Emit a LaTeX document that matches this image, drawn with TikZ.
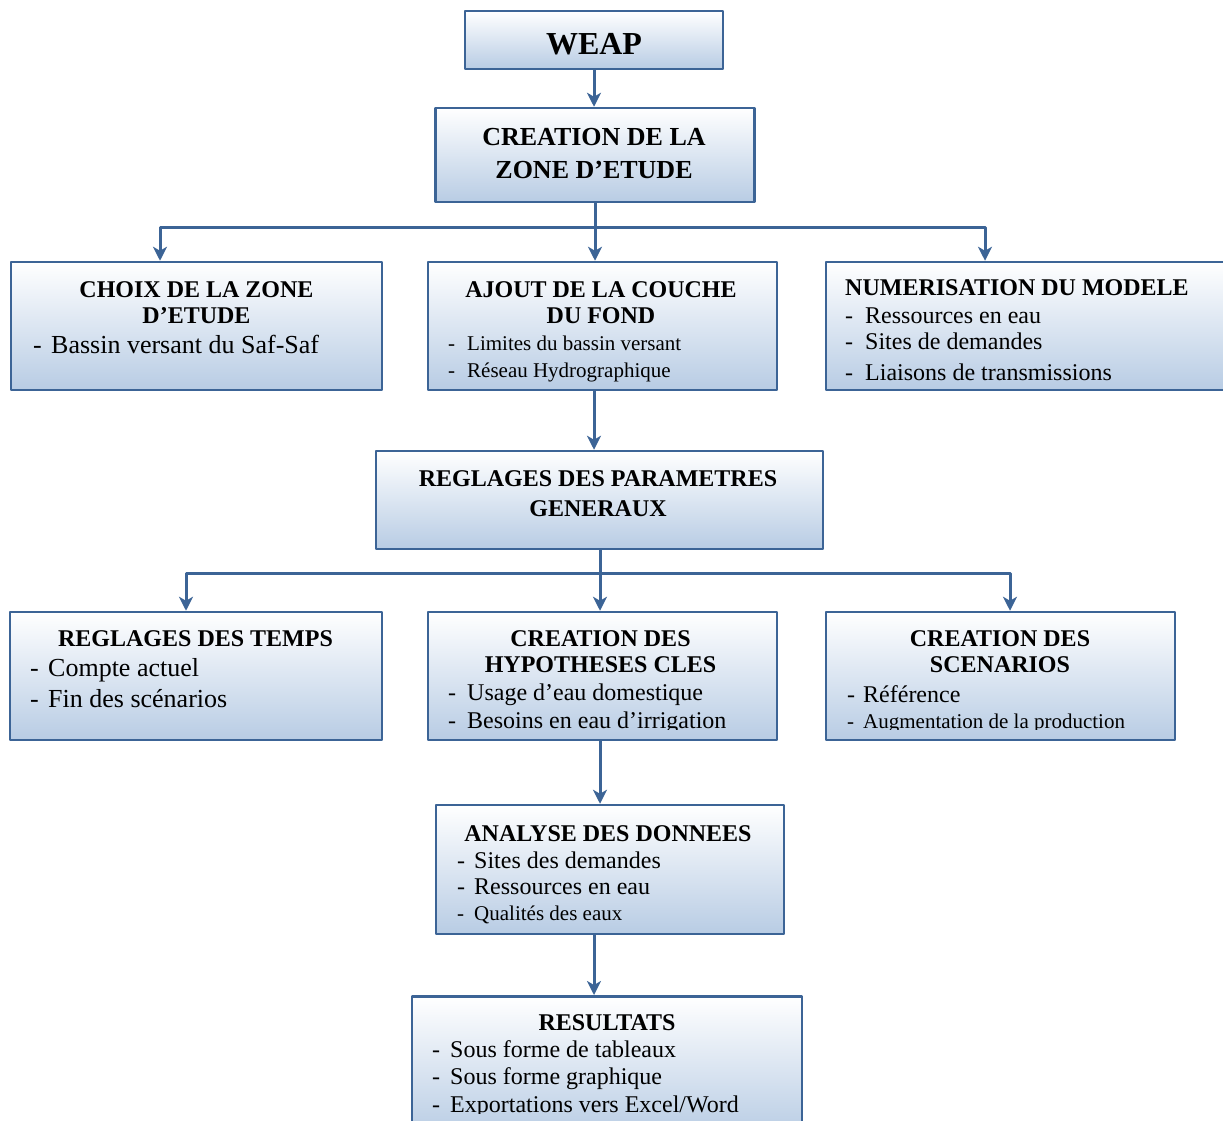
\documentclass[tikz,border=0pt]{standalone}
\usepackage{fontspec}
\setmainfont{Liberation Serif}
\usetikzlibrary{arrows.meta,calc}
\definecolor{bordbleu}{RGB}{60,100,150}
\definecolor{fondbleu}{RGB}{184,204,228}
\newcommand{\tiret}[2]{\makebox[#1][l]{-}#2}

\begin{document}
\begin{tikzpicture}[x=1pt, y=-1pt, line join=round,
	boite/.style 2 args={draw=bordbleu, line width=2.5pt, top color=white, bottom color=fondbleu, minimum width=#1, minimum height=#2, inner sep=0pt},
	titre/.style={font=\bfseries\fontsize{24}{24}\selectfont, anchor=base, inner sep=0pt},
	puce/.style={font=\fontsize{24}{24}\selectfont, anchor=base west, inner sep=0pt},
	petit/.style={font=\fontsize{21}{21}\selectfont},
	grand/.style={font=\fontsize{26}{26}\selectfont},
	trait/.style={draw=bordbleu, line width=3pt},
	fleche/.style={trait, -{Stealth[length=14pt, width=14pt, inset=4pt]}}]
	\useasboundingbox (0,0) rectangle (1223,1120);
	% boites
	\node[boite={258pt}{58pt}] (weap) at (594,40) {};
	\node[boite={319pt}{94pt}] (zone) at (595,155) {};
	\node[boite={371pt}{128pt}] (choix) at (196.5,326) {};
	\node[boite={349pt}{128pt}] (couche) at (602.5,326) {};
	\node[boite={400pt}{128pt}] (numer) at (1026,326) {};
	\node[boite={447pt}{98pt}] (param) at (599.5,500) {};
	\node[boite={372pt}{128pt}] (temps) at (196,676) {};
	\node[boite={349pt}{128pt}] (hypo) at (602.5,676) {};
	\node[boite={349pt}{128pt}] (scen) at (1000.5,676) {};
	\node[boite={348pt}{129pt}] (analyse) at (610,869.5) {};
	\node[boite={390pt}{140pt}, anchor=north] (result) at (607,995) {};
	% liaisons
	\draw[fleche] (weap.south) -- (weap.south |- zone.north);
	\coordinate (j1) at (595,227);
	\draw[trait] (zone.south) -- (j1);
	\foreach \n/\x in {choix/160,couche/595,numer/985}
	\draw[fleche] (j1) -| (\x,0 |- \n.north);
	\draw[fleche] (594,0 |- couche.south) -- (594,0 |- param.north);
	\coordinate (j2) at (600,573);
	\draw[trait] (param.south -| j2) -- (j2);
	\foreach \n/\x in {temps/186,hypo/600,scen/1010}
	\draw[fleche] (j2) -| (\x,0 |- \n.north);
	\draw[fleche] (600,0 |- hypo.south) -- (600,0 |- analyse.north);
	\draw[fleche] (594,0 |- analyse.south) -- (594,0 |- result.north);
	% textes
	\node[titre, font=\bfseries\fontsize{32}{32}\selectfont] (t-weap) at (594,54) {WEAP};
	\node[titre, font=\bfseries\fontsize{26}{26}\selectfont] (t-zone1) at (594,145) {CREATION DE LA};
	\node[titre, font=\bfseries\fontsize{26}{26}\selectfont] (t-zone2) at (594,178) {ZONE D’ETUDE};
	\node[titre] (t-choix1) at (196.5,297) {CHOIX DE LA ZONE};
	\node[titre] (t-choix2) at (196.5,323) {D’ETUDE};
	\node[puce, grand] (p-choix1) at (33,353) {\tiret{18pt}{Bassin versant du Saf-Saf}};
	\node[titre] (t-couche1) at (601,297) {AJOUT DE LA COUCHE};
	\node[titre] (t-couche2) at (601,323) {DU FOND};
	\node[puce, petit] (p-couche1) at (448,350) {\tiret{19pt}{Limites du bassin versant}};
	\node[puce, petit] (p-couche2) at (448,377) {\tiret{19pt}{Réseau Hydrographique}};
	\node[titre] (t-numer) at (1017,295) {NUMERISATION DU MODELE};
	\node[puce] (p-numer1) at (845,323) {\tiret{20pt}{Ressources en eau}};
	\node[puce] (p-numer2) at (845,349) {\tiret{20pt}{Sites de demandes}};
	\node[puce] (p-numer3) at (845,380) {\tiret{20pt}{Liaisons de transmissions}};
	\node[titre] (t-param1) at (598,486) {REGLAGES DES PARAMETRES};
	\node[titre] (t-param2) at (598,516) {GENERAUX};
	\node[titre] (t-temps) at (195.5,646) {REGLAGES DES TEMPS};
	\node[puce, grand] (p-temps1) at (30,676) {\tiret{18pt}{Compte actuel}};
	\node[puce, grand] (p-temps2) at (30,707) {\tiret{18pt}{Fin des scénarios}};
	\node[titre] (t-hypo1) at (600.5,646) {CREATION DES};
	\node[titre] (t-hypo2) at (600.5,672) {HYPOTHESES CLES};
	\node[titre] (t-scen1) at (1000,646) {CREATION DES};
	\node[titre] (t-scen2) at (1000,672) {SCENARIOS};
	\begin{scope}
		\clip (hypo.north west) rectangle (1175,729.5);
		\node[puce] (p-hypo1) at (448,700) {\tiret{19pt}{Usage d’eau domestique}};
		\node[puce] (p-hypo2) at (448,728) {\tiret{19pt}{Besoins en eau d’irrigation}};
		\node[puce] (p-scen1) at (847,702) {\tiret{16pt}{Référence}};
		\node[puce, petit] (p-scen2) at (847,728) {\tiret{16pt}{Augmentation de la production}};
	\end{scope}
	\node[titre] (t-analyse) at (608,841) {ANALYSE DES DONNEES};
	\node[puce] (p-analyse1) at (457,868) {\tiret{17pt}{Sites des demandes}};
	\node[puce] (p-analyse2) at (457,894) {\tiret{17pt}{Ressources en eau}};
	\node[puce, petit] (p-analyse3) at (457,920) {\tiret{17pt}{Qualités des eaux}};
	\node[titre] (t-result) at (607,1030) {RESULTATS};
	\begin{scope}
		\clip (result.north west) rectangle (802,1113);
		\node[puce] (p-result1) at (432,1057) {\tiret{18pt}{Sous forme de tableaux}};
		\node[puce] (p-result2) at (432,1084) {\tiret{18pt}{Sous forme graphique}};
		\node[puce] (p-result3) at (432,1112) {\tiret{18pt}{Exportations vers Excel/Word}};
	\end{scope}
\end{tikzpicture}
\end{document}
